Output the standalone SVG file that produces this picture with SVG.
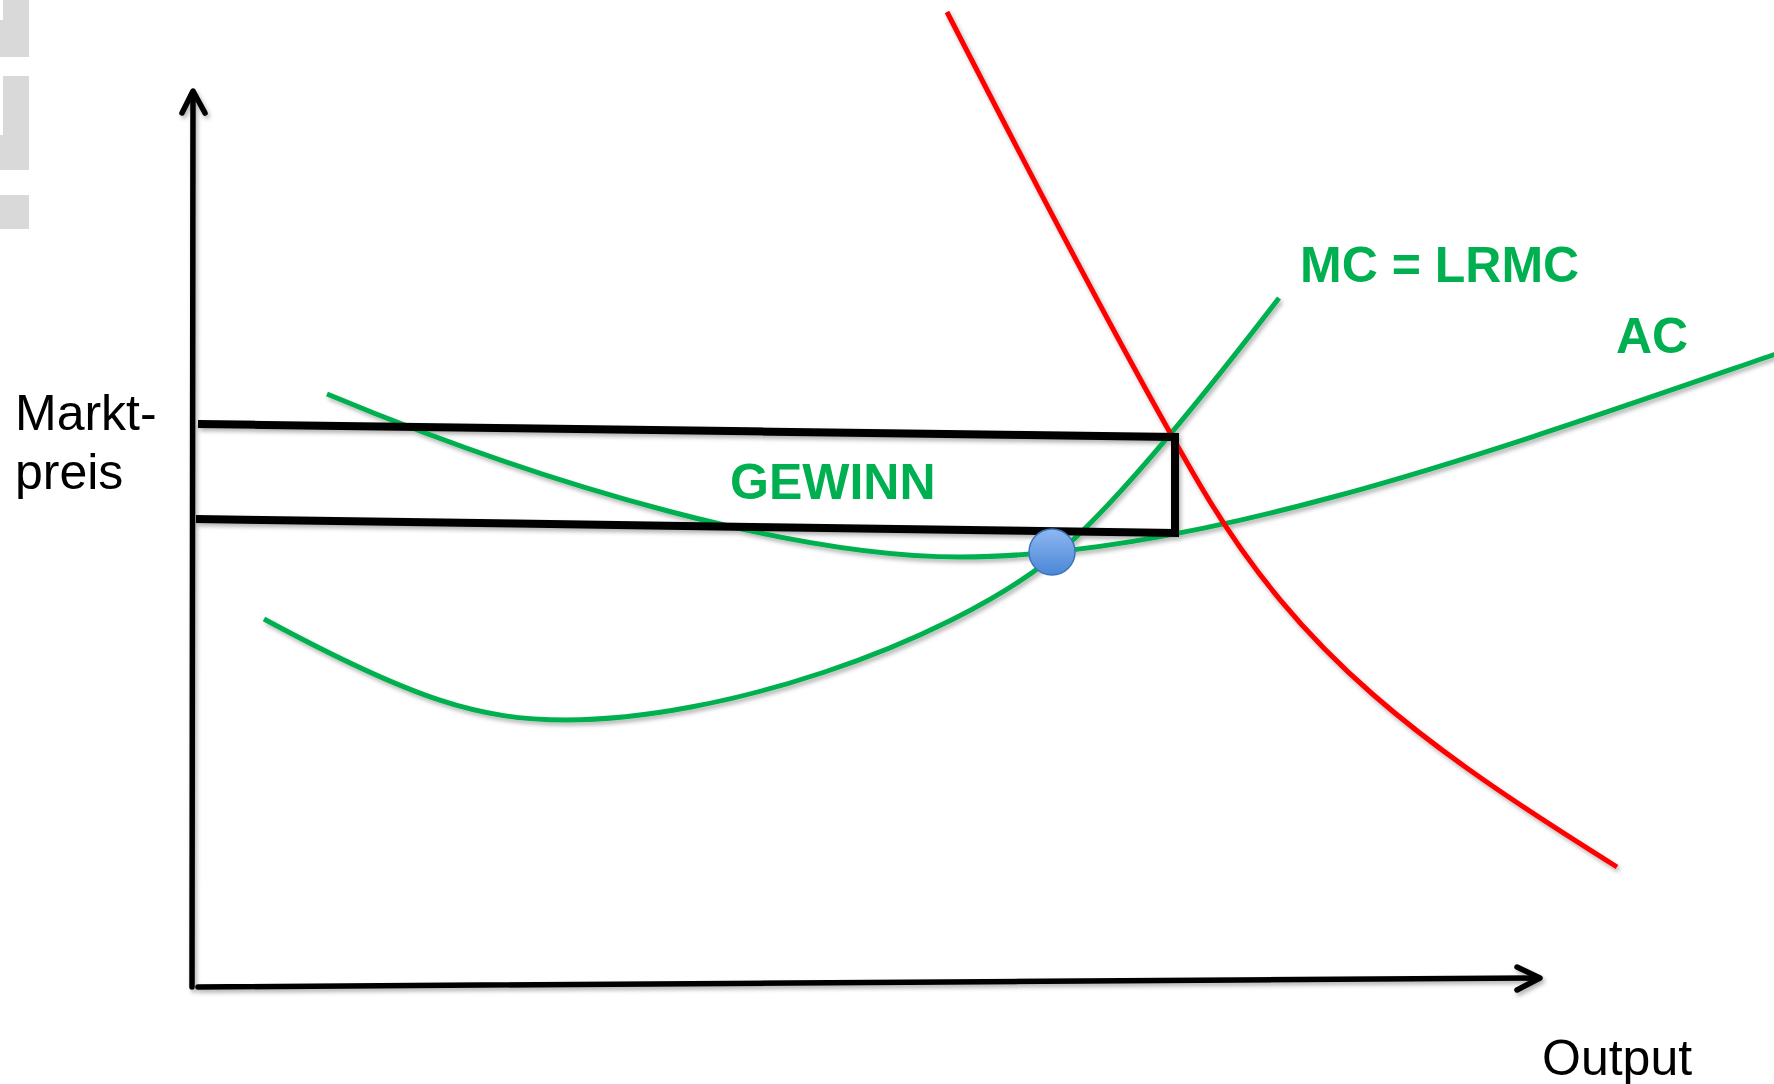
<svg xmlns="http://www.w3.org/2000/svg" width="1774" height="1084" viewBox="0 0 1774 1084">
  <style>
    .axis { fill: none; stroke: #000; stroke-width: 5.5; stroke-linecap: round; stroke-linejoin: round; }
    .rect { fill: none; stroke: #000; stroke-width: 8; stroke-linejoin: miter; }
    .green { fill: none; stroke: #00B050; stroke-width: 5; }
    .red { fill: none; stroke: #FF0000; stroke-width: 5; }
    .lbl { font-family: "Liberation Sans", Arial, sans-serif; font-size: 50px; fill: #000; }
    .glbl { font-family: "Liberation Sans", Arial, sans-serif; font-size: 50px; font-weight: bold; fill: #00B050; }
  </style>
  <defs>
    <filter id="sh" x="-5%" y="-5%" width="110%" height="110%">
      <feDropShadow dx="2" dy="3" stdDeviation="2" flood-color="#000" flood-opacity="0.3"/>
    </filter>
    <linearGradient id="dotg" x1="0" y1="0" x2="0" y2="1">
      <stop offset="0" stop-color="#8DB8F2"/>
      <stop offset="1" stop-color="#4B86D6"/>
    </linearGradient>
  </defs>
  <rect width="1774" height="1084" fill="#fff"/>

  <!-- decorative grey bars at left edge -->
  <g id="deco" fill="#D9D9D9">
    <path d="M3,0 H29 V57 H0 V20 H3 Z"/>
    <path d="M0,76 H29 V170 H0 V135 H3 V76 Z"/>
    <rect x="0" y="195" width="29" height="34"/>
  </g>

  <g id="connectors" filter="url(#sh)">
    <!-- axes -->
    <g id="y-axis">
      <path class="axis" d="M193,92 L192,987"/>
      <polyline class="axis" points="182,113 193,91 205,113"/>
    </g>
    <g id="x-axis">
      <path class="axis" d="M198,987 L1539,978"/>
      <polyline class="axis" points="1517,967 1540,978 1517,990"/>
    </g>
    <!-- curves -->
    <path id="mc-curve" class="green" d="M264,619 C414,700 480,720 566,720 C720,720 940,646 1052,558 C1112,511 1219,376 1279,298"/>
    <path id="ac-curve" class="green" d="M327,394 C557,490 800,557 960,557 C1200,557 1500,449 1776,354"/>
    <path id="red-curve" class="red" d="M947,12 C1028,170 1128,362 1200,485 C1301,657 1422,745 1617,867"/>
    <!-- profit rectangle -->
    <polyline id="gewinn-rect" class="rect" points="198,424 1175,437 1175,533 196,519"/>
  </g>

  <g id="optimum">
    <circle cx="1052" cy="552" r="23" fill="url(#dotg)" stroke="#3F73B8" stroke-width="1.5"/>
  </g>

  <g id="label-marktpreis">
    <text class="lbl" x="15" y="430">Markt-</text>
    <text class="lbl" x="15" y="489">preis</text>
  </g>
  <g id="label-output">
    <text class="lbl" x="1542" y="1075">Output</text>
  </g>
  <g id="label-gewinn">
    <text class="glbl" x="730" y="499">GEWINN</text>
  </g>
  <g id="label-mc">
    <text class="glbl" x="1300" y="282">MC = LRMC</text>
  </g>
  <g id="label-ac">
    <text class="glbl" x="1616" y="353">AC</text>
  </g>
</svg>
